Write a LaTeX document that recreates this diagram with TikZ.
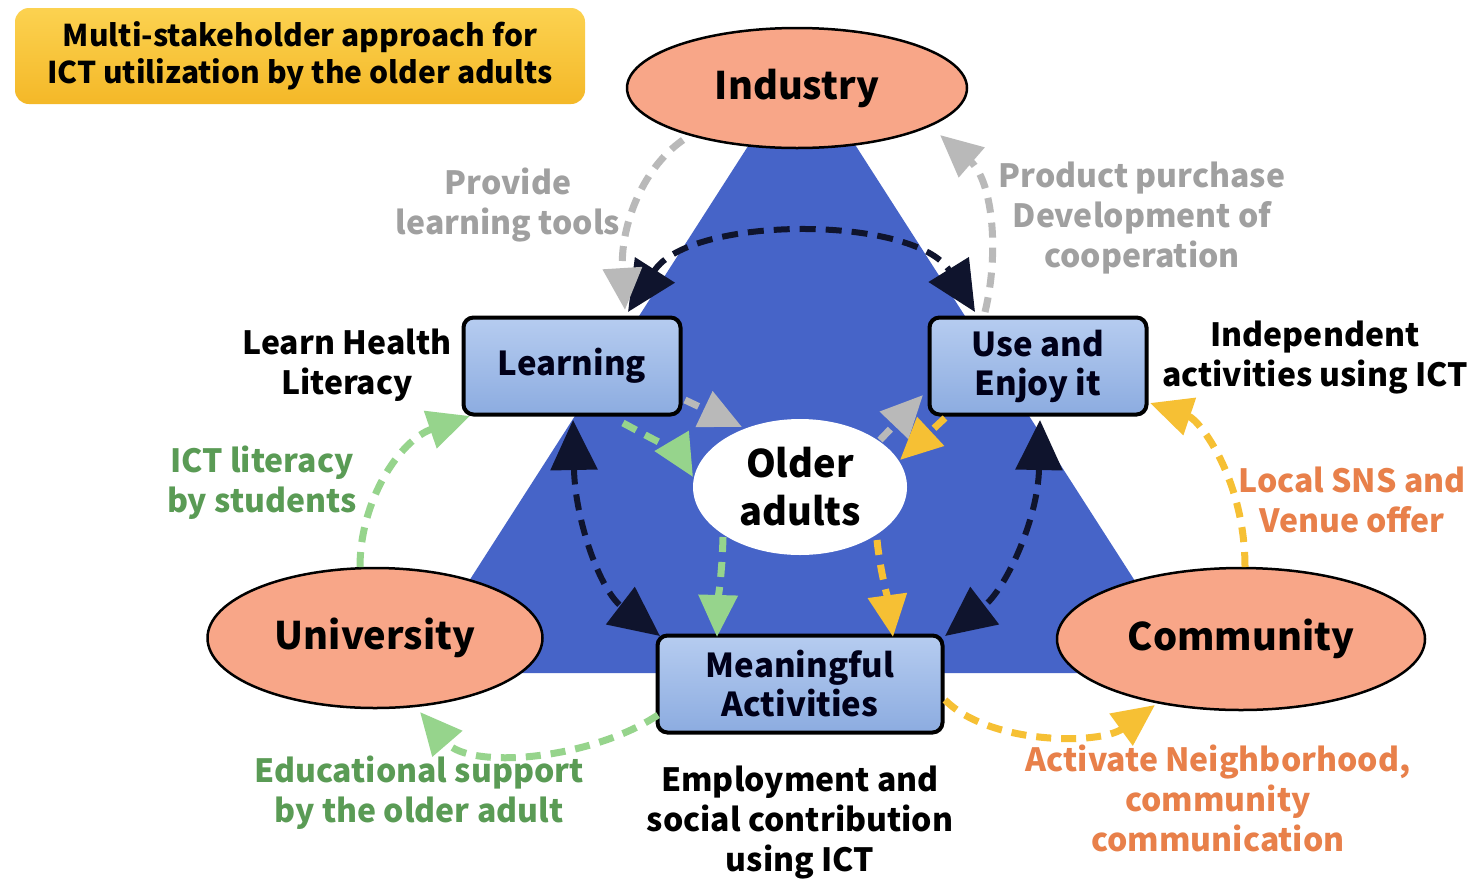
\documentclass[tikz,border=0pt]{standalone}
\usepackage{fontspec}
\setmainfont{Noto Sans CJK JP}
\usetikzlibrary{shapes.geometric,arrows.meta}
\definecolor{triblue}{RGB}{70,100,200}
\definecolor{salmon}{RGB}{248,166,136}
\definecolor{boxtop}{RGB}{182,204,240}
\definecolor{boxbot}{RGB}{140,172,224}
\definecolor{goldtop}{RGB}{252,210,80}
\definecolor{goldbot}{RGB}{244,184,40}
\definecolor{navyline}{RGB}{15,20,45}
\definecolor{grayline}{RGB}{185,185,185}
\definecolor{graytext}{RGB}{160,160,160}
\definecolor{greenline}{RGB}{150,212,140}
\definecolor{greentext}{RGB}{90,155,85}
\definecolor{yellowline}{RGB}{246,192,52}
\definecolor{orangetext}{RGB}{232,128,74}
\begin{document}
\begin{tikzpicture}[x=1pt,y=-1pt,
  stake/.style={ellipse, draw=black, line width=2.5pt, fill=salmon, inner sep=0pt,
    font=\fontsize{38}{42}\selectfont\bfseries},
  actbox/.style={rectangle, rounded corners=10pt, draw=black, line width=4pt,
    top color=boxtop, bottom color=boxbot, minimum width=217pt, minimum height=97pt,
    align=center, inner sep=2pt, font=\fontsize{33}{39}\selectfont\bfseries, text=black!90!blue},
  lbl/.style={align=center, inner sep=0pt, font=\fontsize{32}{40}\selectfont\bfseries},
  blk/.style={draw=navyline, line width=6pt, dash pattern=on 16pt off 10pt,
    {Triangle[length=50pt,width=46pt]}-{Triangle[length=50pt,width=46pt]}},
  gry/.style={draw=grayline, line width=7pt, dash pattern=on 15pt off 10pt,
    -{Triangle[length=42pt,width=38pt]}},
  grn/.style={gry, draw=greenline},
  ylw/.style={gry, draw=yellowline},
]
\useasboundingbox (0,0) rectangle (1475,884);
\fill[white] (0,0) rectangle (1475,884);
% triangle
\fill[triblue] (802,62) -- (410,673) -- (1194,673) -- cycle;
% title
\node[rectangle, rounded corners=14pt, top color=goldtop, bottom color=goldbot,
  minimum width=570pt, minimum height=96pt, align=center,
  font=\fontsize{30}{37}\selectfont\bfseries] (title) at (300,56)
  {Multi-stakeholder approach for\\ICT utilization by the older adults};
% stakeholders
\node[stake, minimum width=340pt, minimum height=120pt] (ind) at (797,88) {Industry};
\node[stake, minimum width=335pt, minimum height=140pt] (uni) at (375,638) {University};
\node[stake, minimum width=368pt, minimum height=142pt] (com) at (1241,639) {Community};
% activities
\node[actbox] (learn) at (572,366) {Learning};
\node[actbox] (use) at (1038,366) {Use and\\Enjoy it};
\node[actbox, minimum width=285pt] (mean) at (800,684) {Meaningful\\Activities};
\node[ellipse, fill=white, minimum width=214pt, minimum height=136pt, inner sep=0pt,
  align=center, font=\fontsize{38}{48}\selectfont\bfseries] (older) at (800,487) {Older\\adults};
% black double arrows
\draw[blk] ([shift={(56,-54)}]learn.center) .. controls (690,215) and (915,215) .. ([shift={(-63,-54)}]use.center);
\draw[blk] ([shift={(1,54)}]learn.center) .. controls (575,520) and (600,590) .. ([shift={(-140,-48)}]mean.center);
\draw[blk] ([shift={(2,54)}]use.center) .. controls (1038,520) and (1005,590) .. ([shift={(145,-48)}]mean.center);
% gray
\draw[gry] ([shift={(-114,52)}]ind.center) .. controls (640,170) and (620,230) .. ([shift={(53,-56)}]learn.center);
\draw[gry] ([shift={(-53,-54)}]use.center) .. controls (1000,250) and (992,180) .. ([shift={(143,47)}]ind.center);
\draw[gry] ([shift={(113,34)}]learn.center) -- ([shift={(-58,-60)}]older.center);
\draw[gry] ([shift={(80,-47)}]older.center) -- ([shift={(-115,29)}]use.center);
% green
\draw[grn] ([shift={(-15,-71)}]uni.center) .. controls (360,500) and (400,440) .. ([shift={(-102,50)}]learn.center);
\draw[grn] ([shift={(-142,31)}]mean.center) .. controls (590,760) and (470,770) .. ([shift={(45,74)}]uni.center);
\draw[grn] ([shift={(51,57)}]learn.center) .. controls (655,440) and (680,455) .. ([shift={(-107,-10)}]older.center);
\draw[grn] ([shift={(-77,50)}]older.center) .. controls (722,575) and (718,600) .. ([shift={(-83,-47)}]mean.center);
% yellow
\draw[ylw] ([shift={(4,-72)}]com.center) .. controls (1245,480) and (1200,420) .. ([shift={(112,37)}]use.center);
\draw[ylw] ([shift={(145,16)}]mean.center) .. controls (990,745) and (1100,745) .. ([shift={(-86,66)}]com.center);
\draw[ylw] ([shift={(-93,52)}]use.center) -- ([shift={(100,-27)}]older.center);
\draw[ylw] ([shift={(77,53)}]older.center) .. controls (880,570) and (888,600) .. ([shift={(93,-47)}]mean.center);
% labels
\node[lbl, text=graytext] (prov) at (508,205) {Provide\\learning tools};
\node[lbl, text=graytext] (prod) at (1142,218) {Product purchase\\Development of\\cooperation};
\node[lbl, text=black] (lhl) at (347,365) {Learn Health\\Literacy};
\node[lbl, text=black] (indep) at (1315,358) {Independent\\activities using ICT};
\node[lbl, text=greentext] (ictl) at (262,483) {ICT literacy\\by students};
\node[lbl, text=orangetext] (sns) at (1352,500) {Local SNS and\\Venue offer};
\node[lbl, text=greentext] (edu) at (419,793) {Educational support\\by the older adult};
\node[lbl, text=black] (emp) at (800,823) {Employment and\\social contribution\\using ICT};
\node[lbl, text=orangetext] (actn) at (1218,798) {Activate Neighborhood,\\community\\communication};
\end{tikzpicture}
\end{document}
